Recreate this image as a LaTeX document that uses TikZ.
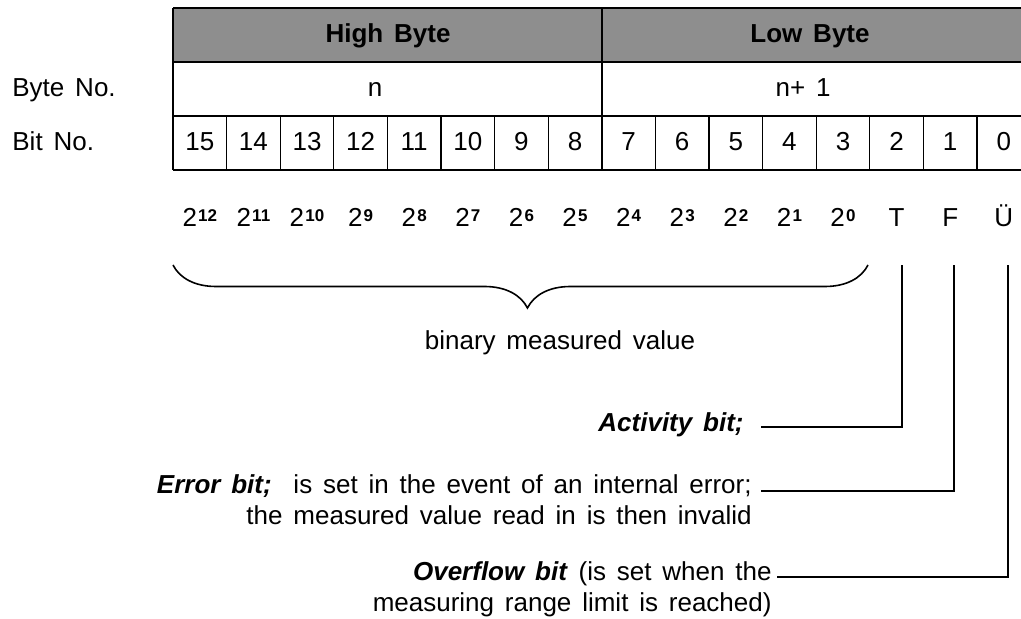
\documentclass[tikz,border=0pt]{standalone}
\usepackage{fontspec}
\setmainfont{Liberation Sans}[WordSpace=1.5]
\usepackage{xcolor}
\usepackage{tikz}
\usetikzlibrary{decorations.pathreplacing, calc}
\definecolor{hdrgray}{HTML}{8E8E8E}
\newcommand{\pw}[1]{2\kern0.6pt\raisebox{2.6pt}{\fontsize{8.5}{8.5}\selectfont\bfseries #1}}

\begin{document}
\begin{tikzpicture}[x=0.5pt, y=-0.5pt,
  rule/.style={line width=1pt},
  hair/.style={line width=0.6pt},
  lead/.style={line width=0.8pt},
  lbl/.style={font=\fontsize{13}{15.5}\selectfont, inner sep=0pt, anchor=base},
  hdr/.style={lbl, font=\fontsize{13}{15.5}\selectfont\bfseries},
  note/.style={lbl, align=right, anchor=east}]
\clip (0,0) rectangle (1021,619);
% header band
\fill[hdrgray] (173,8) rectangle (1031,62);
\node[hdr] (hibyte) at (388,43) {High Byte};
\node[hdr] (lobyte) at (810,43) {Low Byte};
% table rules
\draw[rule] (173,8) -- (1031,8);
\draw[rule] (173,62) -- (1031,62);
\draw[rule] (173,116) -- (1031,116);
\draw[rule] (173,170) -- (1031,170);
\draw[rule] (173,8) -- (173,170);
\draw[rule] (602,8) -- (602,170);
\foreach \i in {1,...,7,9,10,...,15}
  \draw[hair] ({173+53.6*\i},116) -- ({173+53.6*\i},170);
% row labels
\node[lbl, anchor=base west] (byteno) at (12,97) {Byte No.};
\node[lbl, anchor=base west] (bitno) at (12,151) {Bit No.};
\node[lbl] (bytehi) at (375,97) {n};
\node[lbl] (bytelo) at (803,97) {n+ 1};
% bit numbers and weights
\foreach \b [count=\i from 0] in {15,14,...,0}
  \node[lbl] (bit\b) at ({173+53.6*(\i+0.5)},151) {\b};
\foreach \e [count=\i from 0] in {12,11,...,0}
  \node[lbl] (pw\e) at ({173+53.6*(\i+0.5)},227) {\pw{\e}};
\node[lbl] (flagT) at ({173+53.6*13.5},227) {T};
\node[lbl] (flagF) at ({173+53.6*14.5},227) {F};
\node[lbl] (flagU) at ({173+53.6*15.5},227) {Ü};
% brace over the value bits
\coordinate (brR) at (868,265);
\coordinate (brL) at (173,265);
\draw[line width=0.8pt, decorate, decoration={brace, amplitude=21.5pt, aspect=0.49}] (brR) -- (brL);
\node[lbl] (binval) at (560,350) {binary measured value};
% flag bit notes
\node[note, font=\fontsize{13}{15.5}\selectfont\bfseries\itshape] (actlab) at (744,425) {Activity bit;};
\node[note] (errlab) at (752,500) {\textbf{\textit{Error bit;}}~ is set in the event of an internal error;\\the measured value read in is then invalid};
\node[note] (ovflab) at (772,589) {\textbf{\textit{Overflow bit}} (is set when the\\measuring range limit is reached)};
\coordinate (tTop) at (902,265);
\coordinate (fTop) at (954,265);
\coordinate (uTop) at (1008,265);
\coordinate (actEnd) at (761,427);
\coordinate (errEnd) at (761,491);
\coordinate (ovfEnd) at (777,577);
\draw[lead] (actEnd) -| (tTop);
\draw[lead] (errEnd) -| (fTop);
\draw[lead] (ovfEnd) -| (uTop);
\end{tikzpicture}
\end{document}
